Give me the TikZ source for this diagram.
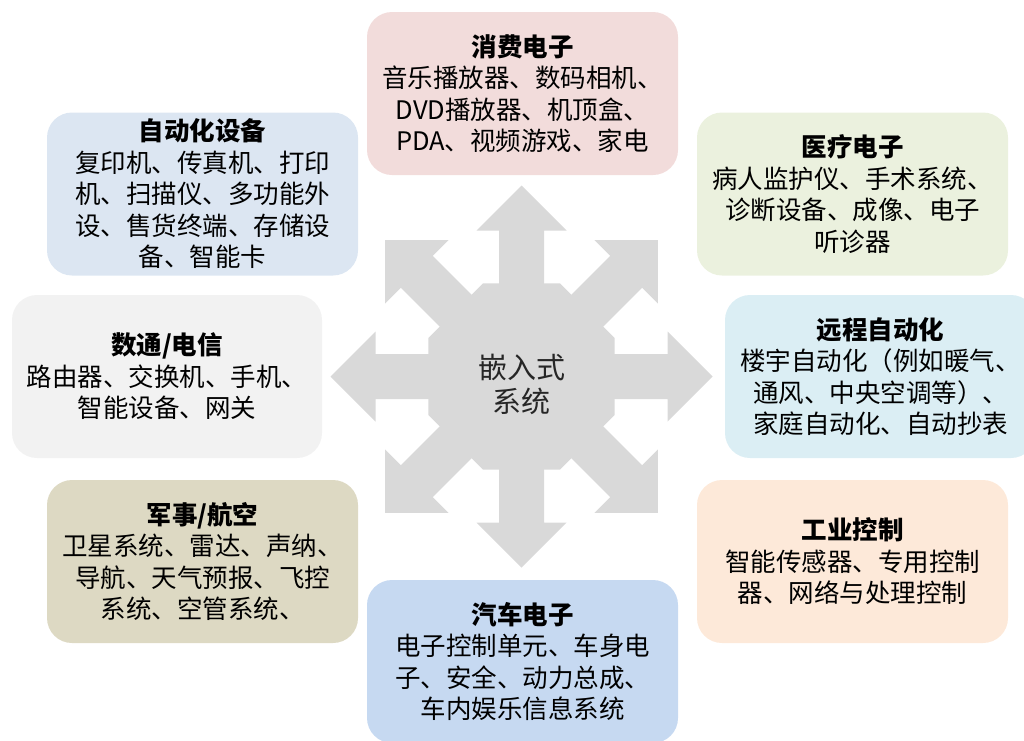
\documentclass[tikz,border=0pt]{standalone}
\usepackage{fontspec}
\setmainfont{Noto Sans CJK SC}
\definecolor{starC}{HTML}{D9D9D9}
\definecolor{cPink}{HTML}{F2DCDB}
\definecolor{cBlue}{HTML}{DCE6F2}
\definecolor{cGreen}{HTML}{EBF1DE}
\definecolor{cGray}{HTML}{F2F2F2}
\definecolor{cCyan}{HTML}{DBEEF4}
\definecolor{cKhaki}{HTML}{DDD9C3}
\definecolor{cPeach}{HTML}{FDE9D9}
\definecolor{cSteel}{HTML}{C6D9F1}
\tikzset{
  box/.style={rounded corners=25pt, inner sep=0pt, minimum width=311pt, minimum height=163pt,
    align=center, font=\fontsize{25.5pt}{31.5pt}\selectfont, text=black},
  starpart/.style={fill=starC, draw=none},
  hubtext/.style={align=center, font=\fontsize{29pt}{34pt}\selectfont, text=black!85}
}
\begin{document}
\begin{tikzpicture}[x=1pt,y=-1pt]
\useasboundingbox (0,0) rectangle (1024,740);
\clip (0,0) rectangle (1024,740);
% central star
\coordinate (c) at (521.5,376.5);
\fill[starpart, shift={(c)}] (22.5:100.7) -- (67.5:100.7) -- (112.5:100.7) -- (157.5:100.7)
  -- (202.5:100.7) -- (247.5:100.7) -- (292.5:100.7) -- (337.5:100.7) -- cycle;
\foreach \a in {0,90,180,270}{
  \fill[starpart, shift={(c)}, rotate=\a] (0,-22.5) -- (146,-22.5) -- (146,-45) -- (191,0) -- (146,45) -- (146,22.5) -- (0,22.5) -- cycle;
}
\foreach \a in {45,135,225,315}{
  \fill[starpart, shift={(c)}, rotate=\a] (0,-22.5) -- (148,-22.5) -- (148,-45) -- (193,0) -- (148,45) -- (148,22.5) -- (0,22.5) -- cycle;
}
\node[hubtext] (hub) at (521.5,384) {嵌入式\\系统};
% boxes
\node[box, fill=cPink] (consumer) at (522.5,93.5)
  {\textbf{消费电子}\\音乐播放器、数码相机、\\DVD播放器、机顶盒、\\PDA、视频游戏、家电};
\node[box, fill=cBlue] (automation) at (202.5,194)
  {\textbf{自动化设备}\\复印机、传真机、打印\\机、扫描仪、多功能外\\设、售货终端、存储设\\备、智能卡};
\node[box, fill=cGreen] (medical) at (852.5,194)
  {\textbf{医疗电子}\\病人监护仪、手术系统、\\诊断设备、成像、电子\\听诊器};
\node[box, fill=cGray, minimum width=310pt] (telecom) at (167,376.5)
  {\textbf{数通/电信}\\路由器、交换机、手机、\\智能设备、网关};
\node[box, fill=cCyan] (remote) at (880.5,376.5)
  {\textbf{远程自动化}\\楼宇自动化（例如暖气、\\通风、中央空调等）、\\家庭自动化、自动抄表};
\node[box, fill=cKhaki] (military) at (202.5,561.5)
  {\textbf{军事/航空}\\卫星系统、雷达、声纳、\\导航、天气预报、飞控\\系统、空管系统、};
\node[box, fill=cPeach] (industrial) at (852.5,561.5)
  {\textbf{工业控制}\\智能传感器、专用控制\\器、网络与处理控制};
\node[box, fill=cSteel] (automotive) at (522.5,661.5)
  {\textbf{汽车电子}\\电子控制单元、车身电\\子、安全、动力总成、\\车内娱乐信息系统};
\end{tikzpicture}
\end{document}
